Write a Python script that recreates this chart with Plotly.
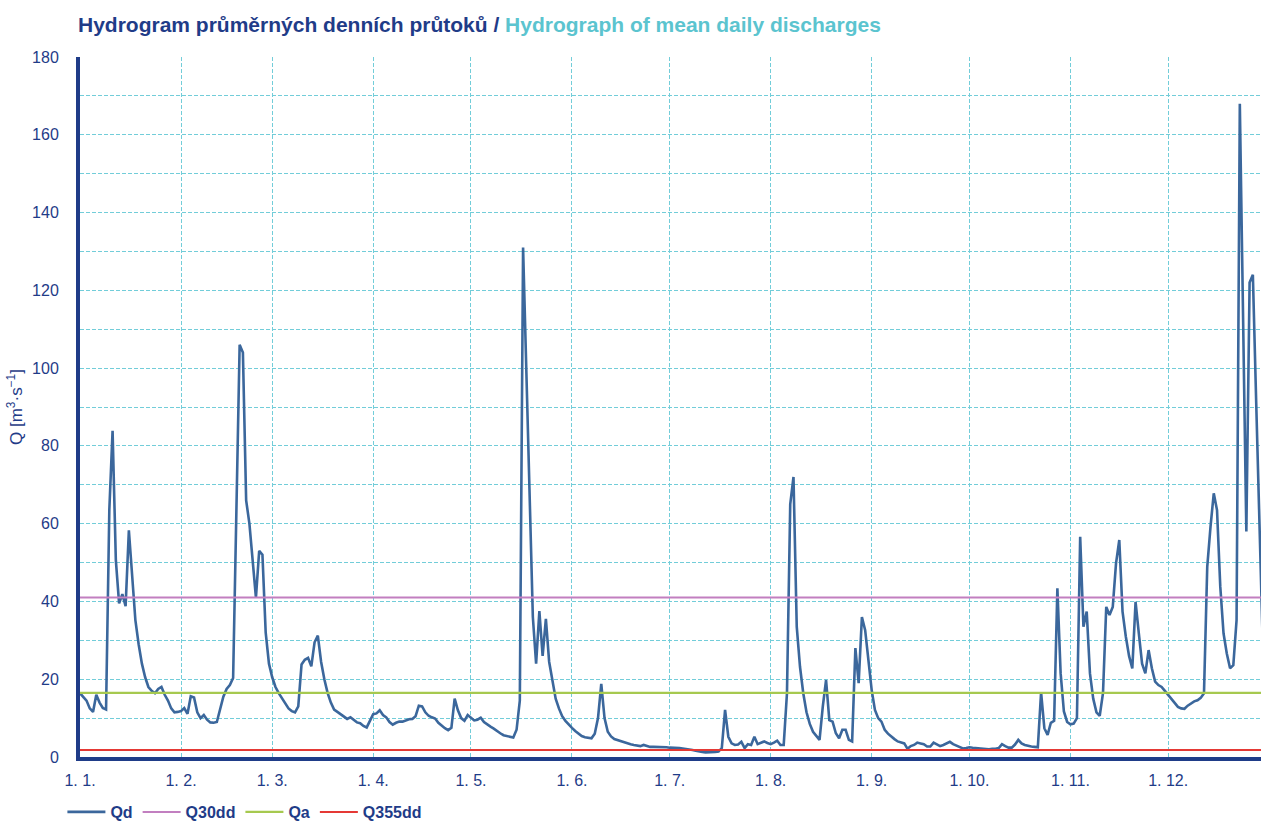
import plotly.graph_objects as go

# ---- data -------------------------------------------------------------
days = list(range(365))  # day of year, 0 = 1 January

qd = [
    16.4, 15.5, 14.5, 12.5, 11.6, 16.0, 14.0, 12.6, 12.2, 63.5,
    83.9, 50.6, 39.5, 41.9, 38.8, 58.3, 46.4, 35.2, 29.0, 24.0,
    20.5, 18.0, 17.0, 16.4, 17.5, 18.0, 16.0, 14.5, 12.5, 11.5,
    11.6, 11.8, 12.6, 11.1, 15.6, 15.3, 11.5, 10.0, 10.8, 9.6,
    8.9, 8.8, 9.0, 12.5, 15.5, 17.5, 18.5, 20.3, 63.0, 106.0,
    104.0, 66.0, 60.0, 51.0, 41.0, 53.0, 52.0, 32.0, 24.0, 20.5,
    18.0, 16.4, 15.0, 13.8, 12.5, 11.8, 11.5, 13.0, 23.8, 25.0,
    25.5, 23.3, 29.5, 31.2, 24.5, 20.0, 16.5, 14.0, 12.2, 11.6,
    11.0, 10.3, 9.8, 10.2, 9.5, 8.9, 8.7, 8.0, 7.6, 9.5,
    11.0, 11.2, 12.0, 10.8, 10.2, 9.0, 8.3, 8.8, 9.1, 9.1,
    9.4, 9.7, 9.8, 10.5, 13.2, 13.0, 11.5, 10.6, 10.2, 9.9,
    8.8, 8.0, 7.4, 6.9, 7.5, 15.0, 12.0, 10.0, 9.3, 10.8,
    10.2, 9.4, 9.6, 10.1, 9.0, 8.3, 7.8, 7.3, 6.6, 6.1,
    5.6, 5.4, 5.2, 5.0, 7.0, 14.5, 131.0, 100.0, 68.0, 36.0,
    24.0, 37.5, 26.0, 35.5, 24.5, 19.5, 15.0, 12.5, 10.5, 9.3,
    8.3, 7.5, 6.7, 6.0, 5.4, 5.1, 5.0, 4.8, 6.0, 10.0,
    18.8, 10.0, 6.5, 5.3, 4.6, 4.3, 4.0, 3.7, 3.5, 3.3,
    3.1, 2.9, 2.8, 3.1, 2.8, 2.6, 2.6, 2.6, 2.6, 2.5,
    2.5, 2.4, 2.4, 2.3, 2.3, 2.2, 2.1, 2.0, 1.8, 1.6,
    1.4, 1.3, 1.2, 1.2, 1.2, 1.3, 1.4, 2.3, 12.1, 5.2,
    3.5, 3.1, 3.2, 3.9, 2.3, 3.3, 3.1, 5.2, 3.3, 3.6,
    4.0, 3.6, 3.3, 3.7, 4.2, 3.1, 3.1, 16.4, 65.0, 72.0,
    33.5, 23.2, 16.4, 11.5, 8.5, 6.5, 5.3, 4.4, 13.0, 19.8,
    9.5, 9.1, 6.1, 4.8, 7.0, 7.0, 4.4, 4.0, 28.0, 19.0,
    36.0, 32.6, 24.9, 17.2, 12.1, 10.0, 9.1, 7.0, 6.0, 5.2,
    4.6, 4.0, 3.7, 3.5, 2.1, 2.8, 3.1, 3.7, 3.5, 3.3,
    2.7, 2.7, 3.7, 3.3, 2.8, 3.1, 3.6, 3.9, 3.3, 2.9,
    2.5, 2.2, 2.3, 2.5, 2.4, 2.3, 2.2, 2.1, 2.1, 2.0,
    2.1, 2.1, 2.3, 3.3, 2.8, 2.4, 2.4, 3.2, 4.4, 3.5,
    3.1, 2.8, 2.7, 2.6, 2.5, 16.6, 7.4, 5.7, 8.8, 9.3,
    43.4, 21.5, 11.7, 9.0, 8.4, 8.6, 10.0, 56.6, 33.5, 37.4,
    21.5, 15.0, 11.5, 10.6, 16.4, 38.6, 36.5, 38.6, 49.8, 55.8,
    37.4, 31.0, 26.0, 22.8, 39.9, 31.8, 24.0, 21.5, 27.5, 22.8,
    19.4, 18.5, 18.0, 17.0, 16.0, 15.0, 13.8, 12.9, 12.5, 12.4,
    13.2, 13.8, 14.3, 14.6, 15.2, 16.4, 48.9, 59.2, 67.8, 63.5,
    43.8, 31.8, 26.6, 22.8, 23.6, 35.2, 168.0, 113.0, 58.0, 122.0,
    124.0, 92.0, 61.0, 30.0, 25.0,
]

q30dd = 41.0
qa = 16.5
q355dd = 1.8

month_days = [0, 31, 59, 90, 120, 151, 181, 212, 243, 273, 304, 334]
month_labels = ["1. 1.", "1. 2.", "1. 3.", "1. 4.", "1. 5.", "1. 6.",
                "1. 7.", "1. 8.", "1. 9.", "1. 10.", "1. 11.", "1. 12."]
y_ticks = [0, 20, 40, 60, 80, 100, 120, 140, 160, 180]

# ---- styles -----------------------------------------------------------
NAVY = "#1f3c88"
CYAN = "#5bc4cf"
GRID = "#72cdd9"
FONT = "Liberation Sans, Arial, sans-serif"
DASH = "4px,2px"

W, H = 1261, 821
ML, MT, MB = 80, 57, 64

fig = go.Figure()
fig.add_trace(go.Scatter(x=days, y=qd, mode="lines", name="<b>Qd</b>",
                         line=dict(color="#3b679c", width=2.6)))
x_span = [days[0], days[-1]]
fig.add_trace(go.Scatter(x=x_span, y=[q30dd, q30dd], mode="lines", name="<b>Q30dd</b>",
                         line=dict(color="#c27fc0", width=2)))
fig.add_trace(go.Scatter(x=x_span, y=[qa, qa], mode="lines", name="<b>Qa</b>",
                         line=dict(color="#a6c94f", width=2.2)))
fig.add_trace(go.Scatter(x=x_span, y=[q355dd, q355dd], mode="lines", name="<b>Q355dd</b>",
                         line=dict(color="#e53935", width=2)))

fig.update_layout(
    width=W, height=H,
    margin=dict(l=ML, r=0, t=MT, b=MB, autoexpand=False),
    paper_bgcolor="white", plot_bgcolor="white",
    font=dict(family=FONT, color=NAVY),
    title=dict(
        text=("<b>Hydrogram průměrných denních průtoků / </b>"
              f"<b><span style='color:{CYAN}'>Hydrograph of mean daily discharges</span></b>"),
        font=dict(size=21, color=NAVY, family=FONT),
        xref="container", x=78 / W, xanchor="left",
        yref="container", y=1 - 25 / H, yanchor="middle",
    ),
    showlegend=True,
    legend=dict(
        orientation="h", x=-0.0149, xanchor="left", y=-0.0786, yanchor="middle",
        font=dict(size=16, color=NAVY, family=FONT),
        bgcolor="rgba(0,0,0,0)", itemwidth=38,
    ),
    xaxis=dict(
        range=[0, 362.5], automargin=False,
        tickmode="array", tickvals=month_days, ticktext=month_labels,
        tickfont=dict(size=16, color=NAVY),
        showgrid=True, gridcolor=GRID, griddash=DASH, gridwidth=1,
        showline=True, linecolor=NAVY, linewidth=4,
        zeroline=False, ticks="", ticklabelstandoff=6,
    ),
    yaxis=dict(
        range=[0, 180], automargin=False,
        tickmode="array", tickvals=y_ticks,
        tickfont=dict(size=16, color=NAVY),
        showgrid=True, gridcolor=GRID, griddash=DASH, gridwidth=1,
        minor=dict(dtick=10, tick0=0, showgrid=True, gridcolor=GRID,
                   griddash=DASH, gridwidth=1),
        showline=True, linecolor=NAVY, linewidth=4,
        zeroline=False, ticks="", ticklabelstandoff=14,
        title=dict(text="Q [m<sup>3</sup>·s<sup>−1</sup>]",
                   font=dict(size=17, color=NAVY), standoff=6),
    ),
)

# remove the browser's default 8px body margin so the figure fills the window
fig.write_html("out.html",
               config={"displayModeBar": False},
               post_script="document.body.style.margin='0';document.body.style.overflow='hidden';")
